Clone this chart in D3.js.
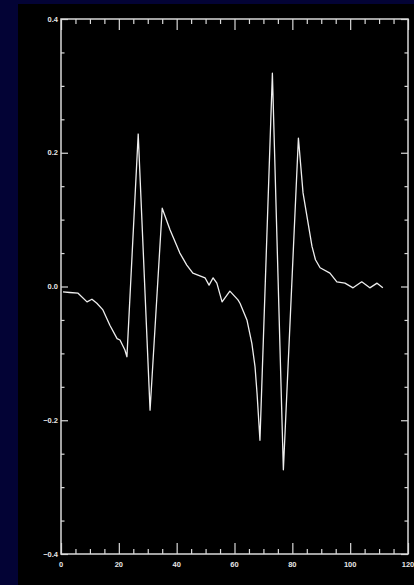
<!DOCTYPE html>
<html><head><meta charset="utf-8">
<script src="https://cdn.jsdelivr.net/npm/d3@7"></script>
<style>html,body{margin:0;padding:0;background:#030335;}svg{display:block;}</style>
</head><body>
<svg id="c" width="414" height="585"></svg>
<script>
const xValues = [0.7,3,5.9,9.0,10.7,12.4,14.5,16.9,19.4,20.4,22.1,22.8,26.7,30.8,35.0,37.7,41.1,43.5,45.6,49.8,51.2,52.6,53.9,55.7,58.4,61.2,61.9,64.3,66.0,67.1,67.8,68.8,73.1,76.9,82.1,83.7,86.8,88.0,89.6,93.0,95.4,98.2,101.0,104.0,106.8,109.3,111.3];
const yValues = [-0.008,-0.009,-0.01,-0.023,-0.019,-0.025,-0.035,-0.058,-0.078,-0.08,-0.095,-0.105,0.228,-0.185,0.117,0.085,0.05,0.032,0.02,0.013,0.002,0.013,0.005,-0.023,-0.007,-0.02,-0.025,-0.05,-0.085,-0.12,-0.16,-0.23,0.319,-0.274,0.222,0.14,0.06,0.04,0.028,0.02,0.007,0.005,-0.002,0.007,-0.002,0.005,-0.002];
const xTickLabels = [0,20,40,60,80,100,120];
const yTickLabels = [0.4,0.2,0.0,-0.2,-0.4];

const svg = d3.select("#c");
svg.append("rect").attr("x",18).attr("y",4).attr("width",396).attr("height",581).attr("fill","#000");

const L=61,R=408,T=19,B=554;
const x = d3.scaleLinear().domain([0,120]).range([L,R]);
const y = d3.scaleLinear().domain([-0.4,0.4]).range([B,T]);
const ax = "#d9d9d9";
const fnt = "Liberation Sans, Arial, sans-serif";
const fs = 7.5;

const xMinor = d3.range(0,121,5).filter(v=>v%20!==0);
const yMinor = d3.range(-0.4,0.401,0.05).filter(v=>Math.abs(Math.round(v*100))%20!==0);

function styleAxis(g){
  g.select(".domain").remove();
  g.selectAll("line").attr("stroke",ax).attr("stroke-width",1.2);
}
// bottom
styleAxis(svg.append("g").attr("transform",`translate(0,${B})`)
  .call(d3.axisTop(x).tickValues(xTickLabels).tickSize(11).tickFormat("")));
styleAxis(svg.append("g").attr("transform",`translate(0,${B})`)
  .call(d3.axisTop(x).tickValues(xMinor).tickSize(5).tickFormat("")));
svg.append("g").selectAll("text").data(xTickLabels).join("text")
  .attr("x",d=>x(d)).attr("y",B+13).attr("text-anchor","middle")
  .attr("fill","#e6e6e6").attr("font-family",fnt).attr("font-size",fs).attr("font-weight","bold")
  .text(d=>d3.format("d")(d));
// top
styleAxis(svg.append("g").attr("transform",`translate(0,${T})`)
  .call(d3.axisBottom(x).tickValues(xTickLabels).tickSize(11).tickFormat("")));
styleAxis(svg.append("g").attr("transform",`translate(0,${T})`)
  .call(d3.axisBottom(x).tickValues(xMinor).tickSize(5).tickFormat("")));
// left
styleAxis(svg.append("g").attr("transform",`translate(${L},0)`)
  .call(d3.axisRight(y).tickValues(yTickLabels).tickSize(7).tickFormat("")));
styleAxis(svg.append("g").attr("transform",`translate(${L},0)`)
  .call(d3.axisRight(y).tickValues(yMinor).tickSize(3.5).tickFormat("")));
svg.append("g").selectAll("text").data(yTickLabels).join("text")
  .attr("x",L-3).attr("y",d=>y(d)+2.7).attr("text-anchor","end")
  .attr("fill","#e6e6e6").attr("font-family",fnt).attr("font-size",fs).attr("font-weight","bold")
  .text(d=>d3.format(".1f")(d).replace("-","\u2212"));
// right
styleAxis(svg.append("g").attr("transform",`translate(${R},0)`)
  .call(d3.axisLeft(y).tickValues(yTickLabels).tickSize(7).tickFormat("")));
styleAxis(svg.append("g").attr("transform",`translate(${R},0)`)
  .call(d3.axisLeft(y).tickValues(yMinor).tickSize(3.5).tickFormat("")));

// frame
svg.append("rect").attr("x",L).attr("y",T).attr("width",R-L).attr("height",B-T)
  .attr("fill","none").attr("stroke",ax).attr("stroke-width",1.5);

// data line
const pts = xValues.map((v,i)=>[v,yValues[i]]);
svg.append("path").datum(pts)
  .attr("d",d3.line().x(d=>x(d[0])).y(d=>y(d[1])))
  .attr("fill","none").attr("stroke","#eeeeee").attr("stroke-width",1.3).attr("stroke-linejoin","round");
</script>
</body></html>
